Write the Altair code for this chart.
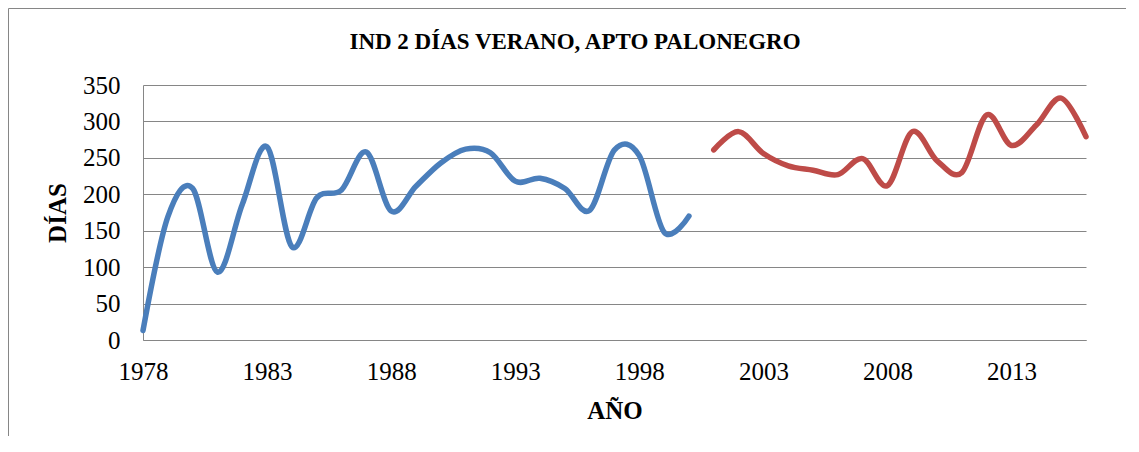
import altair as alt
import pandas as pd

# ---- data ----
years_a = list(range(1978, 2001))
dias_a = [13, 169, 208, 93, 186, 265, 128, 195, 206, 258, 177, 211, 243, 262,
          257, 218, 222, 208, 178, 261, 253, 148, 170]
years_b = list(range(2001, 2017))
dias_b = [261, 286, 256, 239, 233, 227, 249, 212, 286, 246, 230, 309, 267, 295,
          332, 279]
tick_years = [1978, 1983, 1988, 1993, 1998, 2003, 2008, 2013]
y_ticks = [0, 50, 100, 150, 200, 250, 300, 350]
series_names = ["1978-2000", "2001-2016"]
series_colors = ["#4A7EBB", "#BE4B48"]
title_text = "IND 2 DÍAS VERANO, APTO PALONEGRO"

df = pd.DataFrame({
    "AÑO": years_a + years_b,
    "DÍAS": dias_a + dias_b,
    "serie": [series_names[0]] * len(years_a) + [series_names[1]] * len(years_b),
})
one = pd.DataFrame({"k": [0]})

W, H = 943, 255
PL, PT, PR, PB = 135, 77, 40, 96
FONT = "Liberation Serif"
GRID = "#868686"

lines = alt.Chart(df).mark_line(
    interpolate="cardinal", tension=0, strokeWidth=5.5,
    strokeCap="round", strokeJoin="round"
).encode(
    x=alt.X("AÑO:Q",
            scale=alt.Scale(domain=[1978, 2016], nice=False, zero=False),
            axis=alt.Axis(values=tick_years, format="d", grid=False,
                          ticks=False, tickSize=0, labelPadding=19,
                          labelFlush=False, labelOverlap=False,
                          labelFont=FONT, labelFontSize=25, labelColor="black",
                          domainColor=GRID, title="AÑO",
                          titleFont=FONT, titleFontSize=25, titleFontWeight="bold",
                          titleColor="black",
                          titleX=471.5, titleY=70, titleAngle=0,
                          titleAlign="center", titleBaseline="middle")),
    y=alt.Y("DÍAS:Q",
            scale=alt.Scale(domain=[0, 350], nice=False),
            axis=alt.Axis(values=y_ticks, grid=True, gridColor=GRID,
                          ticks=False, tickSize=0, labelPadding=23,
                          labelFlush=False, labelOverlap=False,
                          labelFont=FONT, labelFontSize=25, labelColor="black",
                          domainColor=GRID, title="DÍAS",
                          titleFont=FONT, titleFontSize=25, titleFontWeight="bold",
                          titleColor="black",
                          titleX=-85.5, titleY=127.5, titleAngle=270,
                          titleAlign="center", titleBaseline="middle")),
    color=alt.Color("serie:N",
                    scale=alt.Scale(domain=series_names, range=series_colors),
                    legend=None),
    detail="serie:N",
)

frame_top = alt.Chart(one).mark_rule(color=GRID, strokeWidth=1).encode(
    x=alt.value(-134.5), x2=alt.value(W + PR), y=alt.value(-76.5))
frame_left = alt.Chart(one).mark_rule(color=GRID, strokeWidth=1).encode(
    x=alt.value(-134.5), y=alt.value(-76.5), y2=alt.value(H + PB))

title = alt.Chart(one).mark_text(
    text=title_text, font=FONT, fontSize=23, fontWeight="bold",
    align="center", baseline="middle", color="black"
).encode(x=alt.value(432), y=alt.value(-43))

chart = alt.layer(lines, frame_top, frame_left, title).properties(
    width=W, height=H,
    padding={"left": PL, "top": PT, "right": PR, "bottom": PB},
    autosize=alt.AutoSizeParams(type="none"),
    background="white",
).configure_view(stroke=None).configure_axis(
    gridWidth=1, domainWidth=1,
)

chart.save("out.html", embed_options={"renderer": "svg", "actions": False})
